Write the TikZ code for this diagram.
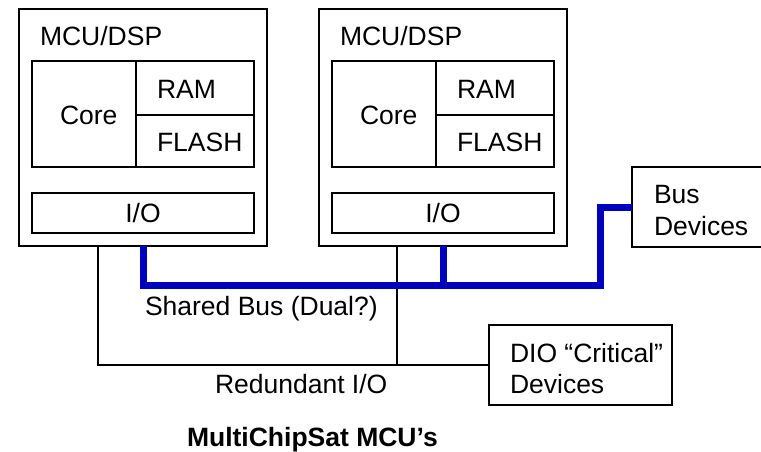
\documentclass[tikz,border=0pt]{standalone}
\usepackage{fontspec}
\setmainfont{Liberation Sans}
\begin{document}
\begin{tikzpicture}[x=1pt,y=-1pt,
  box/.style={draw=black,line width=1.6pt,inner sep=0pt,outer sep=0pt,anchor=north west},
  txt/.style={inner sep=0pt,outer sep=0pt,anchor=base west,font=\fontsize{26.5}{31}\selectfont},
  wire/.style={draw=black,line width=1.6pt},
  bus/.style={draw=blue!75!black,line width=7pt,line join=miter}]
\useasboundingbox (0,0) rectangle (761,451);
% left MCU
\node[box,minimum width=248pt,minimum height=237pt] (mcu1) at (19,9) {};
\node[box,minimum width=104pt,minimum height=106pt] (core1) at (32,61) {};
\node[box,minimum width=118pt,minimum height=54pt] (ram1) at (136,61) {};
\node[box,minimum width=118pt,minimum height=52pt] (flash1) at (136,115) {};
\node[box,minimum width=222pt,minimum height=40pt,font=\fontsize{26.5}{31}\selectfont] (io1) at (32,193) {I/O};
\node[txt] (t1) at (40,45.5) {MCU/DSP};
\node[txt] (c1) at (60,124) {Core};
\node[txt] (r1) at (157,98) {RAM};
\node[txt] (f1) at (157,151) {FLASH};
% right MCU
\node[box,minimum width=248pt,minimum height=237pt] (mcu2) at (319,9) {};
\node[box,minimum width=104pt,minimum height=106pt] (core2) at (332,61) {};
\node[box,minimum width=118pt,minimum height=54pt] (ram2) at (436,61) {};
\node[box,minimum width=118pt,minimum height=52pt] (flash2) at (436,115) {};
\node[box,minimum width=222pt,minimum height=40pt,font=\fontsize{26.5}{31}\selectfont] (io2) at (332,193) {I/O};
\node[txt] (t2) at (340,45.5) {MCU/DSP};
\node[txt] (c2) at (360,124) {Core};
\node[txt] (r2) at (457,98) {RAM};
\node[txt] (f2) at (457,151) {FLASH};
% bus devices
\node[box,minimum width=140pt,minimum height=80pt] (busdev) at (632,167) {};
\node[txt] (bd1) at (654,203) {Bus};
\node[txt] (bd2) at (654,235) {Devices};
% DIO devices
\node[box,minimum width=183pt,minimum height=80pt] (dio) at (489,325) {};
\node[txt] (dd1) at (510,362) {DIO “Critical”};
\node[txt] (dd2) at (510,393) {Devices};
% connectors
\coordinate (j1) at (98,365);
\coordinate (j2) at (397,365);
\coordinate (b1) at (143,285);
\coordinate (b2) at (443,285);
\coordinate (b3) at (600,285);
\draw[wire] (mcu1.south -| j1) |- (dio.west);
\draw[wire] (mcu2.south -| j2) -- (j2);
\draw[bus] (mcu1.south -| b1) |- (b3) |- (busdev.west);
\draw[bus] (mcu2.south -| b2) -- (b2);
% labels
\node[txt] (sb) at (145,315) {Shared Bus (Dual?)};
\node[txt] (ri) at (215,393) {Redundant I/O};
\node[txt,font=\fontsize{26.5}{31}\selectfont\bfseries] (title) at (187,446) {MultiChipSat MCU’s};
\end{tikzpicture}
\end{document}
